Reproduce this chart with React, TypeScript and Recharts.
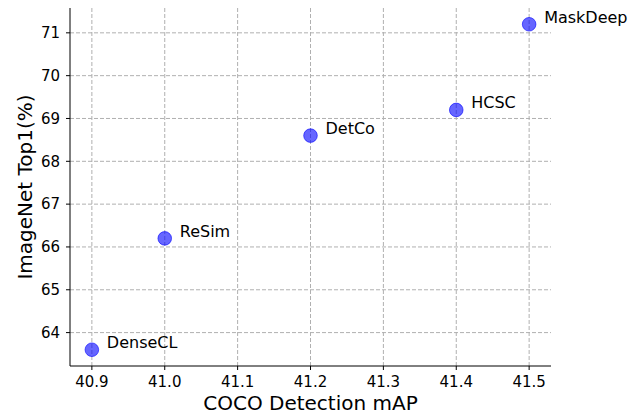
import { CartesianGrid, Label, Scatter, ScatterChart, XAxis, YAxis } from "recharts";

const methods = ["DenseCL", "ReSim", "DetCo", "HCSC", "MaskDeep"];
const cocoMap = [40.9, 41.0, 41.2, 41.4, 41.5];
const top1 = [63.6, 66.2, 68.6, 69.2, 71.2];
const xTicks = [40.9, 41.0, 41.1, 41.2, 41.3, 41.4, 41.5];
const yTicks = [64, 65, 66, 67, 68, 69, 70, 71];

const data = methods.map((name, i) => ({ name, x: cocoMap[i], y: top1[i] }));

const font = "'DejaVu Sans', sans-serif";

const Dot = (props: any) => {
  const { cx, cy, payload } = props;
  return (
    <g>
      <circle cx={cx} cy={cy} r={6.8} fill="blue" fillOpacity={0.6} stroke="blue" strokeOpacity={0.6} strokeWidth={1} />
      <text x={cx + 15} y={cy - 7} fontSize={16} fontFamily={font} fill="#000" dominantBaseline="central">
        {payload.name}
      </text>
    </g>
  );
};

export default function App() {
  return (
    <div style={{ position: "absolute", left: 0, top: 0, background: "#fff" }}>
      <ScatterChart width={637} height={415} margin={{ top: 8, right: 86, left: 0, bottom: 0 }}>
        <CartesianGrid stroke="#b0b0b0" strokeDasharray="4 2" horizontalValues={yTicks} verticalValues={xTicks} />
        <XAxis
          type="number"
          dataKey="x"
          domain={[40.87, 41.53]}
          ticks={xTicks}
          tickFormatter={(v: number) => v.toFixed(1)}
          height={49}
          tickSize={4}
          tickMargin={6}
          stroke="#000"
          tick={{ fill: "#000", fontSize: 15, fontFamily: font }}
        >
          <Label
            content={(p: any) => (
              <text
                x={p.viewBox.x + p.viewBox.width / 2}
                y={p.viewBox.y + 37}
                textAnchor="middle"
                dominantBaseline="central"
                fontSize={20}
                fontFamily={font}
                fill="#000"
              >
                COCO Detection mAP
              </text>
            )}
          />
        </XAxis>
        <YAxis
          type="number"
          dataKey="y"
          domain={[63.22, 71.58]}
          ticks={yTicks}
          width={70}
          tickSize={4}
          tickMargin={6}
          stroke="#000"
          tick={{ fill: "#000", fontSize: 15, fontFamily: font }}
        >
          <Label
            content={(p: any) => {
              const cx = p.viewBox.x + 25;
              const cy = p.viewBox.y + p.viewBox.height / 2;
              return (
                <text
                  x={cx}
                  y={cy}
                  transform={`rotate(-90 ${cx} ${cy})`}
                  textAnchor="middle"
                  dominantBaseline="central"
                  fontSize={20}
                  fontFamily={font}
                  fill="#000"
                >
                  ImageNet Top1(%)
                </text>
              );
            }}
          />
        </YAxis>
        <Scatter data={data} shape={Dot} isAnimationActive={false} />
      </ScatterChart>
    </div>
  );
}
